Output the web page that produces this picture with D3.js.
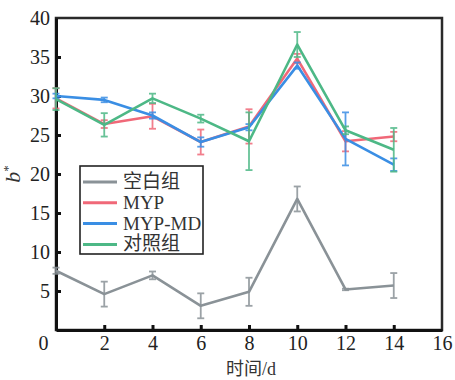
<!DOCTYPE html>
<html>
<head>
<meta charset="utf-8">
<script src="https://cdn.jsdelivr.net/npm/d3@7/dist/d3.min.js"></script>
</head>
<body style="margin:0;padding:0;background:#fff">
<div id="chart"></div>
<script>
// Storage days and b* colour values (mean ± error) for each group
const days = [0, 2, 4, 6, 8, 10, 12, 14];
const blank      = [7.6, 4.6, 7.0, 3.1, 4.9, 16.8, 5.2, 5.7];
const blankErr   = [0.4, 1.6, 0.5, 1.6, 1.8, 1.6, 0.1, 1.6];
const myp        = [29.7, 26.4, 27.4, 24.1, 26.1, 34.8, 24.2, 24.8];
const mypErr     = [1.3, 0.5, 1.6, 1.6, 2.2, 0.6, 1.3, 0.6];
const mypmd      = [30.0, 29.5, 27.5, 24.1, 26.0, 33.9, 24.5, 21.2];
const mypmdErr   = [0.3, 0.3, 0.4, 0.6, 0.4, 0.4, 3.4, 0.8];
const control    = [29.6, 26.3, 29.7, 27.1, 24.2, 36.6, 25.6, 23.1];
const controlErr = [1.4, 1.5, 0.6, 0.5, 3.7, 1.6, 0.5, 2.8];

const seriesNames  = ["空白组", "MYP", "MYP-MD", "对照组"];
const seriesColors = ["#8a9297", "#f06878", "#3a8ee4", "#4db886"];
const xTicks = [0, 2, 4, 6, 8, 10, 12, 14, 16];
const yTicks = [5, 10, 15, 20, 25, 30, 35, 40];

const series = [
  { name: seriesNames[0], color: seriesColors[0], values: blank,   err: blankErr },
  { name: seriesNames[1], color: seriesColors[1], values: myp,     err: mypErr },
  { name: seriesNames[2], color: seriesColors[2], values: mypmd,   err: mypmdErr },
  { name: seriesNames[3], color: seriesColors[3], values: control, err: controlErr }
];

const serif = "'Liberation Serif', 'Times New Roman', serif";
const cjk = "'Liberation Serif', 'Noto Sans CJK SC', serif";
const W = 455, H = 380;
const margin = { left: 56, right: 13, top: 18, bottom: 50 };
const svg = d3.select("#chart").append("svg")
  .attr("width", W).attr("height", H)
  .style("display", "block")
  .style("font-family", serif);

const x = d3.scaleLinear().domain([0, 16]).range([margin.left, W - margin.right]);
const y = d3.scaleLinear().domain([0, 40]).range([H - margin.bottom, margin.top]);

// plot frame
svg.append("rect")
  .attr("x", x(0)).attr("y", y(40))
  .attr("width", x(16) - x(0)).attr("height", y(0) - y(40))
  .attr("fill", "none").attr("stroke", "#2a2a2a").attr("stroke-width", 2.5);

// x axis (ticks point inward)
const xAxis = svg.append("g")
  .attr("transform", `translate(0,${y(0)})`)
  .call(d3.axisBottom(x).tickValues(xTicks).tickSizeInner(-5).tickSizeOuter(0).tickPadding(6));
xAxis.attr("font-family", null).style("font-family", serif);
xAxis.select(".domain").attr("stroke", "#111").attr("stroke-width", 3);
xAxis.selectAll(".tick line").attr("stroke", "#111").attr("stroke-width", 3)
  .filter(d => d === 0 || d === 16).remove();
xAxis.selectAll(".tick text").style("font-family", serif).style("font-size", "20px").attr("fill", "#222");
xAxis.selectAll(".tick").filter(d => d === 0).select("text").attr("dx", -13);

// y axis
const yAxis = svg.append("g")
  .attr("transform", `translate(${x(0)},0)`)
  .call(d3.axisLeft(y).tickValues(yTicks).tickSizeInner(-5).tickSizeOuter(0).tickPadding(6));
yAxis.attr("font-family", null).style("font-family", serif);
yAxis.select(".domain").attr("stroke", "#111").attr("stroke-width", 3);
yAxis.selectAll(".tick line").attr("stroke", "#111").attr("stroke-width", 3)
  .filter(d => d === 40).remove();
yAxis.selectAll(".tick text").style("font-family", serif).style("font-size", "20px").attr("fill", "#222");

// axis titles
svg.append("text")
  .attr("x", (x(0) + x(16)) / 2 + 2).attr("y", 375)
  .attr("text-anchor", "middle")
  .style("font-family", cjk).style("font-size", "18px")
  .attr("fill", "#333")
  .text("时间/d");

const yTitle = svg.append("text")
  .attr("transform", `translate(20,${(y(0) + y(40)) / 2}) rotate(-90)`)
  .attr("text-anchor", "middle")
  .style("font-family", serif).style("font-size", "22px")
  .attr("fill", "#333");
yTitle.append("tspan").style("font-style", "italic").text("b");
yTitle.append("tspan").style("font-size", "13px").attr("dy", -8).text("*");

// series: error bars then lines
const line = d3.line().x((d, i) => x(days[i])).y(d => y(d));
const cap = 3.5;

series.forEach(s => {
  const g = svg.append("g");
  const eb = g.selectAll("g.err").data(s.values).join("g").attr("class", "err")
    .attr("stroke", s.color).attr("stroke-width", 1.8).attr("opacity", 0.85);
  eb.append("line")
    .attr("x1", (d, i) => x(days[i])).attr("x2", (d, i) => x(days[i]))
    .attr("y1", (d, i) => y(d - s.err[i])).attr("y2", (d, i) => y(d + s.err[i]));
  eb.append("line")
    .attr("x1", (d, i) => x(days[i]) - cap).attr("x2", (d, i) => x(days[i]) + cap)
    .attr("y1", (d, i) => y(d + s.err[i])).attr("y2", (d, i) => y(d + s.err[i]));
  eb.append("line")
    .attr("x1", (d, i) => x(days[i]) - cap).attr("x2", (d, i) => x(days[i]) + cap)
    .attr("y1", (d, i) => y(d - s.err[i])).attr("y2", (d, i) => y(d - s.err[i]));
  g.append("path")
    .datum(s.values)
    .attr("d", line)
    .attr("fill", "none")
    .attr("stroke", s.color)
    .attr("stroke-width", 2.6)
    .attr("stroke-linejoin", "round");
});

// legend
const lg = svg.append("g").attr("transform", "translate(80,166)");
lg.append("rect").attr("width", 123).attr("height", 88)
  .attr("fill", "#fff").attr("stroke", "#222").attr("stroke-width", 1.6);
series.forEach((s, i) => {
  const cy = 16 + i * 20.8;
  lg.append("line").attr("x1", 3).attr("x2", 37).attr("y1", cy).attr("y2", cy)
    .attr("stroke", s.color).attr("stroke-width", 3);
  lg.append("text").attr("x", 43).attr("y", cy + 6)
    .style("font-family", cjk).style("font-size", "19px")
    .attr("fill", "#333")
    .text(s.name);
});
</script>
</body>
</html>
